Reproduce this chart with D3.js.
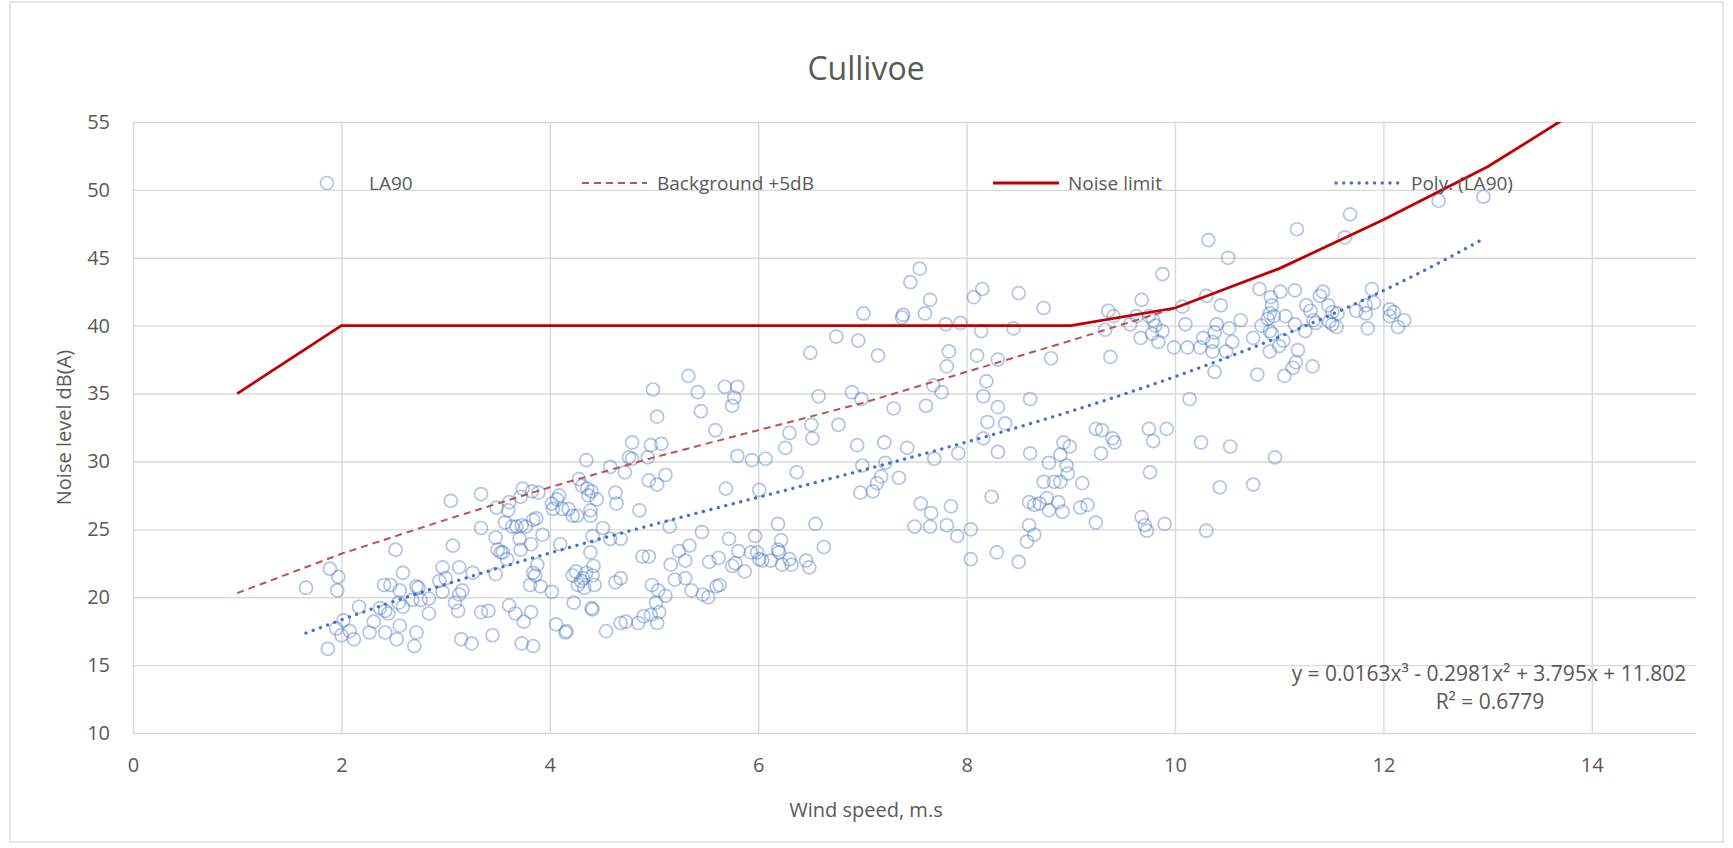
<!DOCTYPE html>
<html>
<head>
<meta charset="utf-8">
<script src="https://cdn.jsdelivr.net/npm/d3@7"></script>
<style>
  body { margin: 0; background: #fff; }
  text { font-family: "Open Sans", sans-serif; fill: #595959; }
</style>
</head>
<body>
<svg width="1733" height="848"></svg>
<script>
// LA90 readings: [wind speed m/s, noise level dB(A)]
var la90 = [
  [1.66,20.7],[1.87,16.2],[1.89,22.1],[1.97,21.5],[1.96,20.5],[2.02,18.3],[1.95,17.7],[2.0,17.2],[2.08,17.5],[2.12,16.9],
  [2.17,19.3],[2.31,18.2],[2.27,17.4],[2.41,20.9],[2.47,20.9],[2.37,19.2],[2.42,19.0],[2.45,18.8],[2.42,17.4],[2.53,16.9],
  [2.56,17.9],[2.52,23.5],[2.59,21.8],[2.56,20.5],[2.55,19.6],[2.59,19.3],[2.70,16.4],[2.72,17.4],[2.72,20.8],[2.74,20.7],
  [2.68,19.8],[2.76,19.8],[2.84,19.9],[2.84,18.8],[2.97,22.2],[2.94,21.2],[3.0,21.4],[2.97,20.4],[3.05,27.1],[3.07,23.8],
  [3.13,22.2],[3.16,20.5],[3.13,20.2],[3.09,19.6],[3.12,19.0],[3.15,16.9],[3.25,16.6],[3.26,21.8],[3.34,27.6],[3.34,25.1],
  [3.34,18.9],[3.41,19.0],[3.45,17.2],[3.49,26.6],[3.48,24.4],[3.50,23.5],[3.53,23.3],[3.55,23.3],[3.48,21.7],[3.60,26.4],
  [3.57,25.5],[3.61,27.0],[3.64,25.2],[3.68,25.2],[3.73,25.3],[3.71,24.3],[3.77,25.2],[3.84,25.7],[3.87,25.8],[3.74,28.0],
  [3.72,27.4],[3.83,27.8],[3.89,27.7],[3.59,22.8],[3.72,23.5],[3.82,23.9],[3.93,24.6],[3.88,22.4],[3.84,21.8],[3.86,21.6],
  [3.81,20.9],[3.91,20.8],[3.61,19.4],[3.67,18.8],[3.75,18.2],[3.82,18.9],[3.73,16.6],[3.84,16.4],[4.02,20.4],[4.06,18.0],
  [4.15,17.4],[4.16,17.5],[4.10,23.9],[4.22,26.0],[4.23,19.6],[4.40,19.2],[4.41,19.1],[4.27,20.9],[4.30,21.2],[4.32,21.4],
  [4.25,21.9],[4.22,21.6],[4.35,21.8],[4.07,27.2],[4.03,26.5],[4.09,27.5],[4.02,26.9],[4.12,26.5],[4.18,26.5],[4.26,26.0],
  [4.28,28.7],[4.31,28.2],[4.36,28.0],[4.40,27.8],[4.37,27.5],[4.39,26.4],[4.39,26.0],[4.41,24.5],[4.39,23.3],[4.42,22.3],
  [4.35,30.1],[4.33,20.7],[4.41,21.6],
  [4.58,29.6],[4.72,29.2],[4.76,30.3],[4.79,30.2],[4.79,31.4],[4.94,30.3],[4.95,28.6],[5.03,28.3],[5.11,29.0],[4.97,31.2],
  [5.07,31.3],[4.99,35.3],[5.03,33.3],[5.33,36.3],[5.42,35.1],[5.45,33.7],[5.59,32.3],[5.68,35.5],[5.80,35.5],[5.77,34.7],
  [5.75,34.1],[5.80,30.4],[5.94,30.1],[6.07,30.2],[5.69,28.0],[6.01,27.9],[6.37,29.2],[6.30,32.1],[6.26,31.0],[6.51,32.7],
  [6.52,31.7],[6.58,34.8],[6.77,32.7],[6.50,38.0],[6.75,39.2],[6.96,38.9],[7.15,37.8],[6.90,35.1],[6.99,34.6],[7.30,33.9],
  [6.95,31.2],[7.21,31.4],[7.43,31.0],[7.00,29.7],[7.22,29.9],[7.35,28.8],[7.18,28.9],[7.14,28.4],[7.10,27.8],[6.98,27.7],
  [4.63,27.7],[4.64,26.9],[4.45,27.2],[4.86,26.4],[7.01,40.9],
  [4.51,25.1],[4.58,24.3],[4.68,24.3],[5.15,25.2],[5.46,24.8],[5.72,24.3],[5.97,24.5],[6.19,25.4],[6.55,25.4],[6.63,23.7],
  [6.22,24.2],[6.19,23.5],[6.20,23.3],[6.12,22.7],[6.23,22.4],[6.30,22.8],[6.32,22.4],[6.46,22.7],[6.49,22.2],[6.04,22.7],
  [6.01,22.8],[5.93,23.3],[5.99,23.3],[5.81,23.4],[5.87,21.9],[5.78,22.5],[5.75,22.3],[5.62,22.9],[5.53,22.6],[5.34,23.8],
  [5.24,23.4],[5.30,22.7],[5.16,22.4],[4.89,23.0],[4.95,23.0],[4.43,20.9],[4.63,21.1],[4.68,21.4],[4.98,20.9],[5.04,20.5],
  [5.11,20.1],[5.02,19.6],[5.20,21.3],[5.30,21.4],[5.36,20.5],[5.47,20.2],[5.52,20.0],[5.60,20.8],[5.63,20.9],[5.05,18.9],
  [4.97,18.7],[4.90,18.6],[4.68,18.1],[4.73,18.2],[4.85,18.1],[5.03,18.1],[4.54,17.5],
  [7.55,44.2],[7.46,43.2],[7.39,40.8],[7.38,40.6],[7.65,41.9],[7.60,40.9],[7.80,40.1],[7.94,40.2],[7.83,38.1],[7.81,37.0],
  [7.68,35.6],[7.76,35.1],[7.61,34.1],[8.07,42.1],[8.15,42.7],[8.14,39.6],[8.10,37.8],[8.30,37.5],[8.19,35.9],[8.16,34.8],
  [8.30,34.0],[8.20,32.9],[8.37,32.8],[8.16,31.7],[8.50,42.4],[8.45,39.8],[8.74,41.3],[8.81,37.6],[8.61,34.6],[8.61,30.6],
  [8.93,31.4],[8.99,31.1],[9.24,32.4],[9.30,32.3],[9.40,31.7],[9.42,31.4],[9.36,41.1],[9.41,40.7],[9.33,39.7],[9.38,37.7],
  [9.68,41.9],[9.63,40.7],[9.75,40.7],[9.79,40.4],[9.81,40.0],[9.88,39.6],[9.78,39.4],[9.57,40.1],[9.67,39.1],[9.84,38.8],
  [9.88,43.8],[9.99,38.4],[9.75,32.4],[9.92,32.4],[9.79,31.5],[10.14,34.6],[10.07,41.4],[10.10,40.1],[10.12,38.4],[10.24,38.4],
  [10.27,39.1],[10.25,31.4],[10.32,46.3],[10.30,42.2],
  [7.69,30.2],[7.92,30.6],[7.56,26.9],[7.66,26.2],[7.85,26.7],[7.50,25.2],[7.65,25.2],[7.81,25.3],[7.91,24.5],[8.04,25.0],
  [8.04,22.8],[8.29,23.3],[8.50,22.6],[8.24,27.4],[8.30,30.7],[8.90,30.5],[8.79,29.9],[8.96,29.7],[8.97,29.1],[8.74,28.5],
  [8.84,28.5],[8.90,28.5],[9.11,28.4],[8.60,27.0],[8.65,26.8],[8.70,26.9],[8.77,27.3],[8.88,27.0],[8.79,26.4],[8.92,26.3],
  [9.09,26.6],[9.16,26.8],[9.24,25.5],[8.60,25.3],[8.65,24.6],[8.58,24.1],[9.29,30.6],[9.76,29.2],[9.68,25.9],[9.71,25.3],
  [9.73,24.9],[9.90,25.4],[10.30,24.9],
  [10.51,45.0],[11.17,47.1],[11.68,48.2],[11.63,46.5],[12.53,49.2],[12.96,49.5],[10.44,41.5],[10.81,42.7],[10.92,42.1],[11.01,42.5],
  [11.15,42.6],[10.93,41.5],[10.91,40.9],[10.89,40.5],[10.95,40.7],[11.06,40.7],[10.63,40.4],[10.52,39.8],[10.40,40.1],[10.38,39.5],
  [10.36,38.8],[10.55,38.8],[10.49,38.1],[10.75,39.1],[10.83,40.0],[10.91,39.6],[10.93,39.4],[11.00,38.5],[10.91,38.1],[11.04,38.9],
  [11.18,38.2],[11.15,40.1],[11.26,41.5],[11.30,41.1],[11.33,40.4],[11.35,40.2],[11.42,42.5],[11.39,42.2],[11.47,41.5],[11.51,41.0],
  [11.51,40.1],[11.55,39.9],[11.56,40.9],[11.48,40.3],[11.25,39.6],[11.74,41.1],[11.83,41.5],[11.89,42.7],[11.91,41.7],[11.83,40.9],
  [11.85,39.8],[12.06,41.2],[12.10,41.0],[12.06,40.7],[12.14,39.9],[12.20,40.4],
  [10.36,38.1],[10.38,36.6],[10.79,36.4],[11.05,36.3],[11.13,36.9],[11.16,37.3],[11.32,37.0],[10.53,31.1],[10.96,30.3],[10.43,28.1],
  [10.75,28.3]
];

// background +5dB curve
var bgSpeeds = [1, 2, 3, 4, 5, 6, 7, 8, 9, 10];
var bgPlus5 = [20.3, 23.2, 25.7, 28.1, 30.3, 32.3, 34.3, 36.6, 38.9, 41.3];

// noise limit
var limitSpeeds = [1, 2, 3, 4, 5, 6, 7, 8, 9, 10, 11, 12, 13, 14];
var noiseLimit = [35, 40, 40, 40, 40, 40, 40, 40, 40, 41.3, 44.2, 47.8, 51.7, 56.5];

// Poly. (LA90) trendline coefficients, x^3 .. x^0
var polyCoeffs = [0.0163, -0.2981, 3.795, 11.802];

var xTicks = [0, 2, 4, 6, 8, 10, 12, 14];
var yTicks = [10, 15, 20, 25, 30, 35, 40, 45, 50, 55];

var svg = d3.select("svg"),
    plotLeft = 133, plotRight = 1696, plotTop = 122, plotBottom = 733;

var x = d3.scaleLinear().domain([0, 15]).range([plotLeft, plotRight]);
var y = d3.scaleLinear().domain([10, 55]).range([plotBottom, plotTop]);

// outer chart border
svg.append("rect")
  .attr("x", 10).attr("y", 2).attr("width", 1713).attr("height", 840)
  .attr("fill", "none").attr("stroke", "#d9d9d9").attr("stroke-width", 1.3);

svg.append("defs").append("clipPath").attr("id", "plot-clip")
  .append("rect")
  .attr("x", plotLeft).attr("y", plotTop)
  .attr("width", plotRight - plotLeft).attr("height", plotBottom - plotTop);

// axes + gridlines
var xAxis = svg.append("g")
  .attr("transform", "translate(0," + plotBottom + ")")
  .call(d3.axisBottom(x).tickValues(xTicks).tickSize(-(plotBottom - plotTop)).tickPadding(25).tickFormat(d3.format("d")));

var yAxis = svg.append("g")
  .attr("transform", "translate(" + plotLeft + ",0)")
  .call(d3.axisLeft(y).tickValues(yTicks).tickSize(-(plotRight - plotLeft)).tickPadding(23).tickFormat(d3.format("d")));

[xAxis, yAxis].forEach(function(a) {
  a.select(".domain").remove();
  a.selectAll(".tick line").attr("stroke", "#d9d9d9").attr("stroke-width", 1.4);
  a.selectAll(".tick text").attr("font-size", "20px").style("fill", "#595959");
});

var plot = svg.append("g").attr("clip-path", "url(#plot-clip)");

// scatter
plot.append("g").selectAll("circle")
  .data(la90)
  .enter().append("circle")
  .attr("cx", function(d) { return x(d[0]); })
  .attr("cy", function(d) { return y(d[1]); })
  .attr("r", 6.5)
  .attr("fill", "none")
  .attr("stroke", "#4472c4")
  .attr("stroke-opacity", 0.42)
  .attr("stroke-width", 1.7);

var line = d3.line()
  .x(function(d) { return x(d[0]); })
  .y(function(d) { return y(d[1]); });

// background + 5dB
plot.append("path")
  .attr("d", line(bgSpeeds.map(function(s, i) { return [s, bgPlus5[i]]; })))
  .attr("fill", "none")
  .attr("stroke", "#c0504d")
  .attr("stroke-width", 2)
  .attr("stroke-dasharray", "7,5");

// noise limit
plot.append("path")
  .attr("d", line(limitSpeeds.map(function(s, i) { return [s, noiseLimit[i]]; })))
  .attr("fill", "none")
  .attr("stroke", "#c00000")
  .attr("stroke-width", 2.8);

// polynomial trendline over the data range
function poly(v) {
  return polyCoeffs[0] * v * v * v + polyCoeffs[1] * v * v + polyCoeffs[2] * v + polyCoeffs[3];
}
var xExt = d3.extent(la90, function(d) { return d[0]; });
var trend = d3.range(0, 101).map(function(i) {
  var v = xExt[0] + (xExt[1] - xExt[0]) * i / 100;
  return [v, poly(v)];
});
plot.append("path")
  .attr("d", line(trend))
  .attr("fill", "none")
  .attr("stroke", "#4472c4")
  .attr("stroke-width", 3.3)
  .attr("stroke-linecap", "round")
  .attr("stroke-dasharray", "0.1,7.6");

// title
svg.append("text")
  .attr("x", 866).attr("y", 80)
  .attr("text-anchor", "middle")
  .attr("font-size", "32px")
  .text("Cullivoe");

// axis titles
svg.append("text")
  .attr("x", 866).attr("y", 817)
  .attr("text-anchor", "middle")
  .attr("font-size", "20px")
  .text("Wind speed, m.s");

svg.append("text")
  .attr("transform", "translate(64," + ((plotTop + plotBottom) / 2) + ") rotate(-90)")
  .attr("dy", "0.35em")
  .attr("text-anchor", "middle")
  .attr("font-size", "20px")
  .text("Noise level dB(A)");

// legend
var ly = 183;
var legend = svg.append("g").attr("font-size", "19px");
legend.append("circle")
  .attr("cx", 327).attr("cy", ly).attr("r", 6.5)
  .attr("fill", "none").attr("stroke", "#4472c4")
  .attr("stroke-opacity", 0.42).attr("stroke-width", 1.7);
legend.append("text").attr("x", 369).attr("y", ly).attr("dy", "0.35em").text("LA90");

legend.append("line")
  .attr("x1", 582).attr("x2", 647).attr("y1", ly).attr("y2", ly)
  .attr("stroke", "#c0504d").attr("stroke-width", 2).attr("stroke-dasharray", "7,5");
legend.append("text").attr("x", 657).attr("y", ly).attr("dy", "0.35em").text("Background +5dB");

legend.append("line")
  .attr("x1", 993).attr("x2", 1059).attr("y1", ly).attr("y2", ly)
  .attr("stroke", "#c00000").attr("stroke-width", 2.8);
legend.append("text").attr("x", 1068).attr("y", ly).attr("dy", "0.35em").text("Noise limit");

legend.append("line")
  .attr("x1", 1336).attr("x2", 1401).attr("y1", ly).attr("y2", ly)
  .attr("stroke", "#4472c4").attr("stroke-width", 3.3)
  .attr("stroke-linecap", "round").attr("stroke-dasharray", "0.1,7.6");
legend.append("text").attr("x", 1411).attr("y", ly).attr("dy", "0.35em").text("Poly. (LA90)");

// trendline equation
var eq = svg.append("g").attr("font-size", "21px").attr("text-anchor", "middle");
eq.append("text").attr("x", 1489).attr("y", 681)
  .text("y = " + polyCoeffs[0] + "x³ - " + Math.abs(polyCoeffs[1]) + "x² + " + polyCoeffs[2] + "x + " + polyCoeffs[3]);
eq.append("text").attr("x", 1490).attr("y", 709).text("R² = 0.6779");
</script>
</body>
</html>
